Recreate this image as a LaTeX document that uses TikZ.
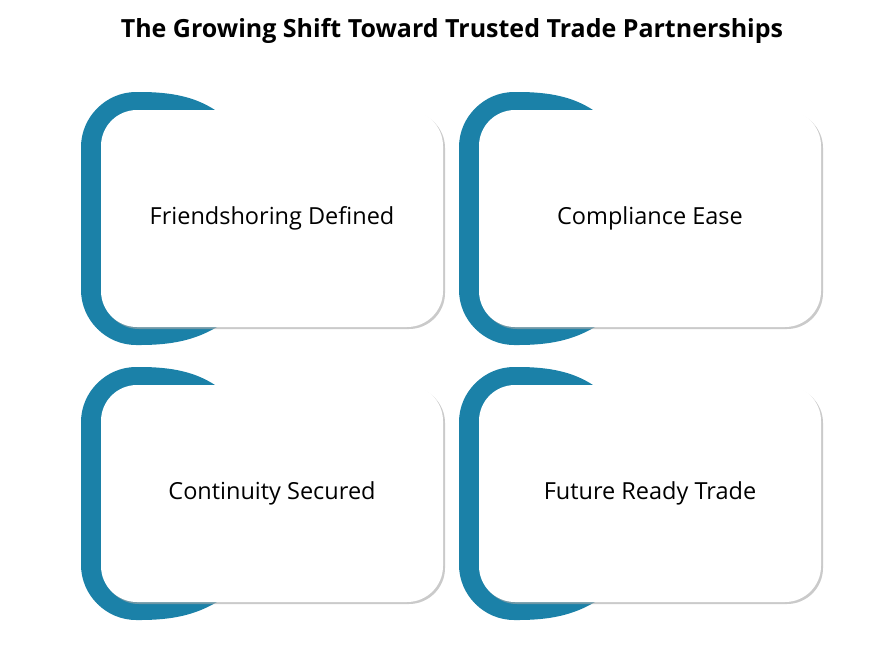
\documentclass[tikz,border=0pt]{standalone}
\usepackage{fontspec}
\setmainfont{Open Sans}
\usetikzlibrary{shadows}
\definecolor{tabblue}{HTML}{1B81A8}
\tikzset{
  cardlabel/.style={font=\fontsize{23.5}{28}\selectfont},
  titlelabel/.style={font=\fontsize{25}{30}\selectfont\bfseries},
  card/.style={fill=white, rounded corners=36pt,
               minimum width=342pt, minimum height=217pt,
               drop shadow={shadow xshift=2pt, shadow yshift=-2pt,
                            fill=black!35, opacity=0.6}},
  declare function={
    colgap=378;
    rowgap=275;
  }
}

\begin{document}
\begin{tikzpicture}[x=1pt, y=-1pt]
\useasboundingbox (0,0) rectangle (887,657);

\node [titlelabel] (title) at (452,31) {The Growing Shift Toward Trusted Trade Partnerships};

\foreach [count=\i from 0] \t in
                  {Friendshoring Defined,
                   Compliance Ease,
                   Continuity Secured,
                   Future Ready Trade}
  {
   \begin{scope}[shift={({mod(\i,2)*colgap},{int(\i/2)*rowgap})}]
   % blue tab behind the card
   \fill [tabblue] (217,327) .. controls (195,340) and (172,345) .. (140,345)
          -- (136,345) .. controls (106,345) and (81,320) .. (81,290)
          -- (81,147) .. controls (81,117) and (106,92) .. (136,92)
          -- (140,92) .. controls (172,92) and (195,97) .. (215,110) -- cycle;
   \node [card, cardlabel, name=card-\i] at (272,218.5) {\t};
   \end{scope}
  }

\end{tikzpicture}
\end{document}
